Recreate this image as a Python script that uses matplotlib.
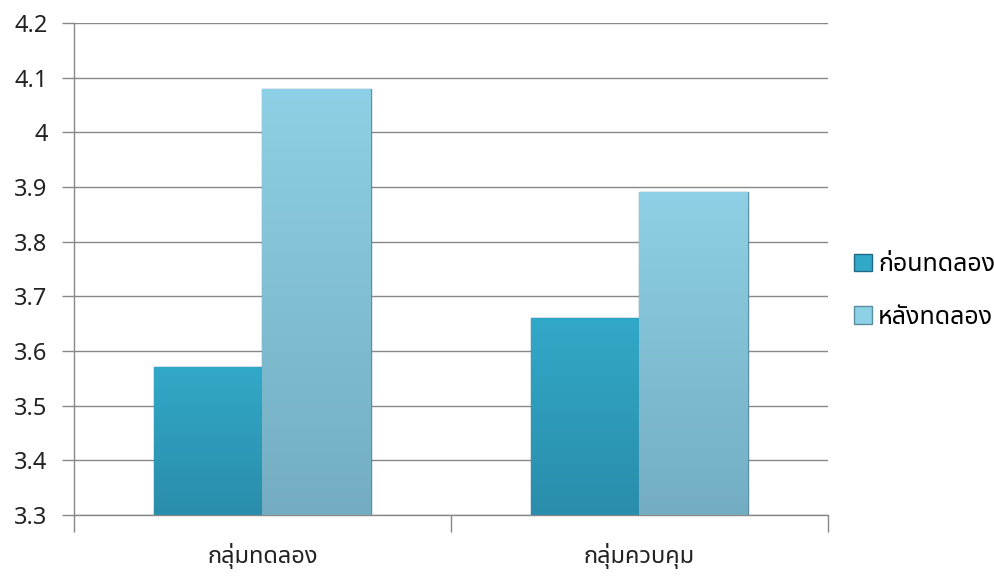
import numpy as np
import matplotlib.pyplot as plt
from matplotlib.colors import LinearSegmentedColormap

plt.rcParams['font.family'] = ['Noto Sans Thai', 'DejaVu Sans']

groups = ["กลุ่มทดลอง", "กลุ่มควบคุม"]
series = ["ก่อนทดลอง", "หลังทดลอง"]
before = [3.57, 3.66]
after = [4.08, 3.89]
yticks = [3.3, 3.4, 3.5, 3.6, 3.7, 3.8, 3.9, 4.0, 4.1, 4.2]
ylabels = ["3.3", "3.4", "3.5", "3.6", "3.7", "3.8", "3.9", "4", "4.1", "4.2"]

fig = plt.figure(figsize=(9.95, 5.76), dpi=100)
ax = fig.add_axes([0.0744, 0.106, 0.7576, 0.854])

x = np.arange(len(groups))
w = 0.287
ymin = 3.3

# (top colour, bottom colour) gradients for the two series
grads = [("#32a8c8", "#2a8dab"), ("#8ed0e5", "#74adc1")]
edges = ["#1d6a82", "#5a8ea1"]
for k, vals in enumerate([before, after]):
    off = (k - 0.5) * w
    b = ax.bar(x + off, np.array(vals) - ymin, w, bottom=ymin,
               color=grads[k][0], edgecolor=edges[k], linewidth=1,
               label=series[k], zorder=3)
    cmap = LinearSegmentedColormap.from_list("g%d" % k, [grads[k][1], grads[k][0]])
    grad = np.linspace(0, 1, 256).reshape(-1, 1)
    for rect, v in zip(b, vals):
        x0 = rect.get_x()
        im = ax.imshow(grad, cmap=cmap, origin="lower", aspect="auto",
                       extent=(x0, x0 + w, ymin, v), zorder=3.5)
        im.set_clip_path(rect)

ax.set_xlim(-0.5, 1.5)
ax.set_ylim(3.3, 4.2)
ax.set_yticks(yticks)
ax.set_yticklabels(ylabels)
ax.set_xticks(x)
ax.set_xticklabels(groups)
ax.set_xticks([-0.5, 0.5, 1.5], minor=True)
ax.tick_params(axis="x", which="major", length=0, pad=20, labelsize=17, colors="#222222")
ax.tick_params(axis="x", which="minor", length=12, color="#888888", width=1)
ax.tick_params(axis="y", length=9, color="#888888", width=1, labelsize=17, colors="#222222", pad=10)

ax.grid(axis="y", color="#888888", linewidth=1, zorder=0)
ax.set_axisbelow(True)
for s in ["top", "right"]:
    ax.spines[s].set_visible(False)
for s in ["left", "bottom"]:
    ax.spines[s].set_color("#888888")
    ax.spines[s].set_linewidth(1)

leg = ax.legend(loc="center left", bbox_to_anchor=(1.015, 0.455), frameon=False,
                fontsize=18, handlelength=0.7, handleheight=0.7, handletextpad=0.25,
                labelspacing=1.1, borderaxespad=0.2)

fig.savefig("out.png")
